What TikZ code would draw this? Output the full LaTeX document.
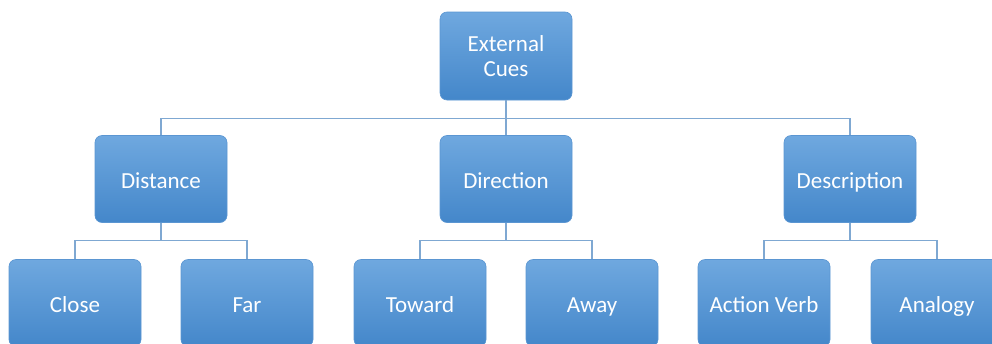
\documentclass[tikz,border=0pt]{standalone}
\usepackage{fontspec}
\setmainfont{Carlito}
\definecolor{boxtop}{HTML}{6FA8DF}
\definecolor{boxbot}{HTML}{4487CA}
\definecolor{boxedge}{HTML}{5B96D2}
\definecolor{linkcol}{HTML}{7FA8D2}
\tikzset{
  cue/.style={rounded corners=7pt, top color=boxtop, bottom color=boxbot,
    draw=boxedge, line width=0.6pt, text=white, align=center,
    minimum width=132pt, minimum height=87pt, inner sep=2pt,
    text height=18pt, text depth=0pt,
    font=\fontsize{23}{25}\selectfont},
  tree/.style={draw=linkcol, line width=1.2pt,
    to path={(\tikztostart) -- ++(0,18) -| (\tikztotarget)}}
}
\begin{document}
\begin{tikzpicture}[x=1pt,y=-1pt]
\useasboundingbox (0,0) rectangle (992,343);
\clip (0,0) rectangle (992,343);
\node[cue, minimum height=88pt, text height=, text depth=] (ext) at (506,56) {External\\Cues};
\node[cue] (dist) at (161,179) {Distance};
\node[cue] (dir) at (506,179) {Direction};
\node[cue] (desc) at (850,179) {Description};
\node[cue] (close) at (75,303) {Close};
\node[cue] (far) at (247,303) {Far};
\node[cue] (tow) at (420,303) {Toward};
\node[cue] (away) at (592,303) {Away};
\node[cue] (act) at (764,303) {Action Verb};
\node[cue] (ana) at (937,303) {Analogy};
\path[tree] (ext.south) edge (dist.north) edge (dir.north) edge (desc.north);
\path[tree] (dist.south) edge (close.north) edge (far.north);
\path[tree] (dir.south) edge (tow.north) edge (away.north);
\path[tree] (desc.south) edge (act.north) edge (ana.north);
\end{tikzpicture}
\end{document}
